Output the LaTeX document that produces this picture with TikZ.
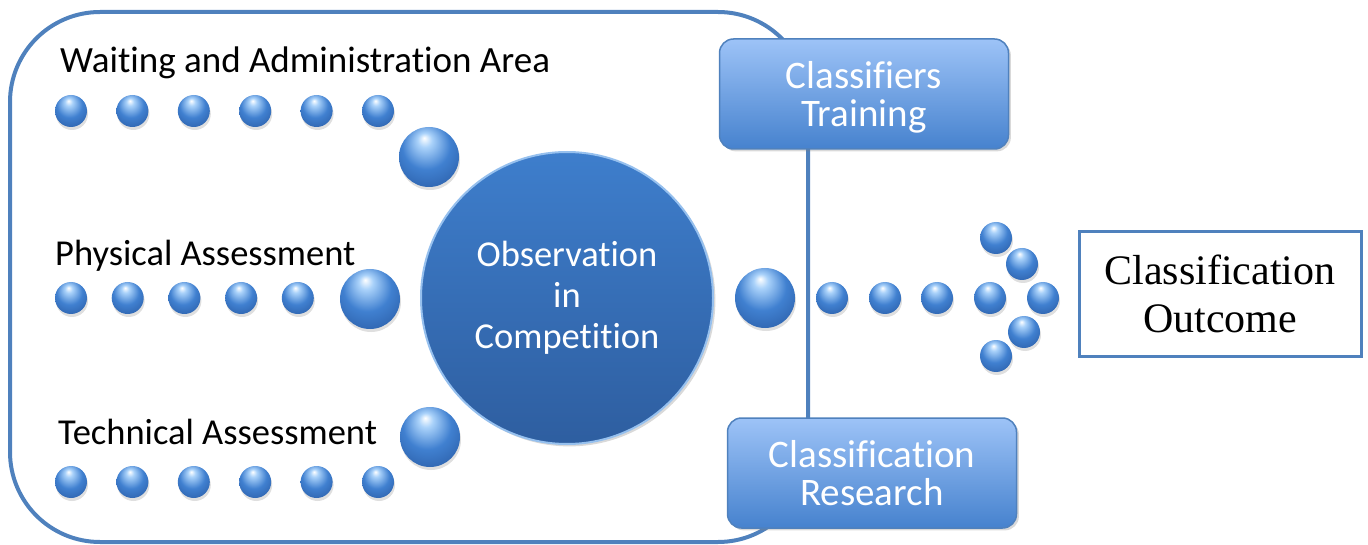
\documentclass[tikz,border=0pt]{standalone}
\usepackage{fontspec}
\setmainfont{Carlito}[Ligatures=NoCommon]
\newfontfamily\serifout{Liberation Serif}
\usetikzlibrary{shadows}
\definecolor{rimblue}{RGB}{79,129,189}
\definecolor{beadlite}{RGB}{170,210,250}
\definecolor{beadblue}{RGB}{64,128,208}
\definecolor{beaddeep}{RGB}{38,86,158}
\definecolor{boxtop}{RGB}{157,195,247}
\definecolor{boxbot}{RGB}{70,130,206}
\definecolor{hubtop}{RGB}{62,126,204}
\definecolor{hubbot}{RGB}{46,94,160}
\definecolor{hubrim}{RGB}{150,192,238}
\pgfdeclareradialshading{beadshade}{\pgfpoint{-4bp}{16bp}}{color(0bp)=(white);
 color(6bp)=(beadlite); color(20bp)=(beadblue); color(40bp)=(beaddeep); color(50bp)=(beaddeep)}
\tikzset{
 bead/.style={circle, inner sep=0pt, minimum size=32pt, shading=beadshade,
  drop shadow={opacity=.25, shadow xshift=1pt, shadow yshift=-3pt}},
 bigbead/.style={bead, minimum size=60pt},
 areatext/.style={anchor=base west, inner sep=0pt, font=\fontsize{36.5}{40}\selectfont},
 stagebox/.style={draw=rimblue, line width=1.5pt, rounded corners=14pt, top color=boxtop,
  bottom color=boxbot, minimum width=289pt, minimum height=110pt, text=white, align=center,
  text depth=0pt, font=\fontsize{39}{38}\selectfont, drop shadow={opacity=.3}}
}
\begin{document}
\begin{tikzpicture}[x=1pt, y=-1pt]
\useasboundingbox (0,0) rectangle (1368,545);
% competition area
\draw[rimblue, line width=4pt, rounded corners=90pt] (10,12) rectangle (808,542);
\node[circle, minimum size=292pt, inner sep=0pt, top color=hubtop, bottom color=hubbot,
 draw=hubrim, line width=2pt, text=white, align=center, font=\fontsize{36.5}{41}\selectfont,
 drop shadow={opacity=.3}] (hub) at (567,298) {Observation\\in\\Competition};
% rows of beads
\node[areatext, font=\fontsize{37}{40}\selectfont] (wait) at (60,73) {Waiting and Administration Area};
\node[areatext] (phys) at (55,266) {Physical Assessment};
\node[areatext] (tech) at (58,444) {Technical Assessment};
\foreach \i in {0,...,5} {
 \node[bead] (w\i) at ({71+61.4*\i},111) {};
 \node[bead] (t\i) at ({71+61.4*\i},482) {};
}
\foreach \i in {0,...,4}
 \node[bead] (p\i) at ({71+56.7*\i},298) {};
\node[bigbead] (wm) at (429,157) {};
\node[bigbead] (pm) at (370,299) {};
\node[bigbead] (tm) at (430,437) {};
% output side
\node[bigbead] (om) at (765,298) {};
\foreach \x [count=\k] in {832,885,937,990}
 \node[bead] (o\k) at (\x,298) {};
\foreach \x/\y [count=\k] in {996/238, 1022/264, 1043/298, 1024/332, 996/356}
 \node[bead] (h\k) at (\x,\y) {};
\node[stagebox] (train) at (864,94) {Classifiers\\Training};
\node[stagebox] (research) at (872,473) {Classification\\Research};
\node[draw=rimblue, line width=3pt, minimum width=282pt, minimum height=124pt, align=center,
 font=\serifout\fontsize{42}{48}\selectfont] (outcome) at (1220,294) {Classification\\Outcome};
\end{tikzpicture}
\end{document}
